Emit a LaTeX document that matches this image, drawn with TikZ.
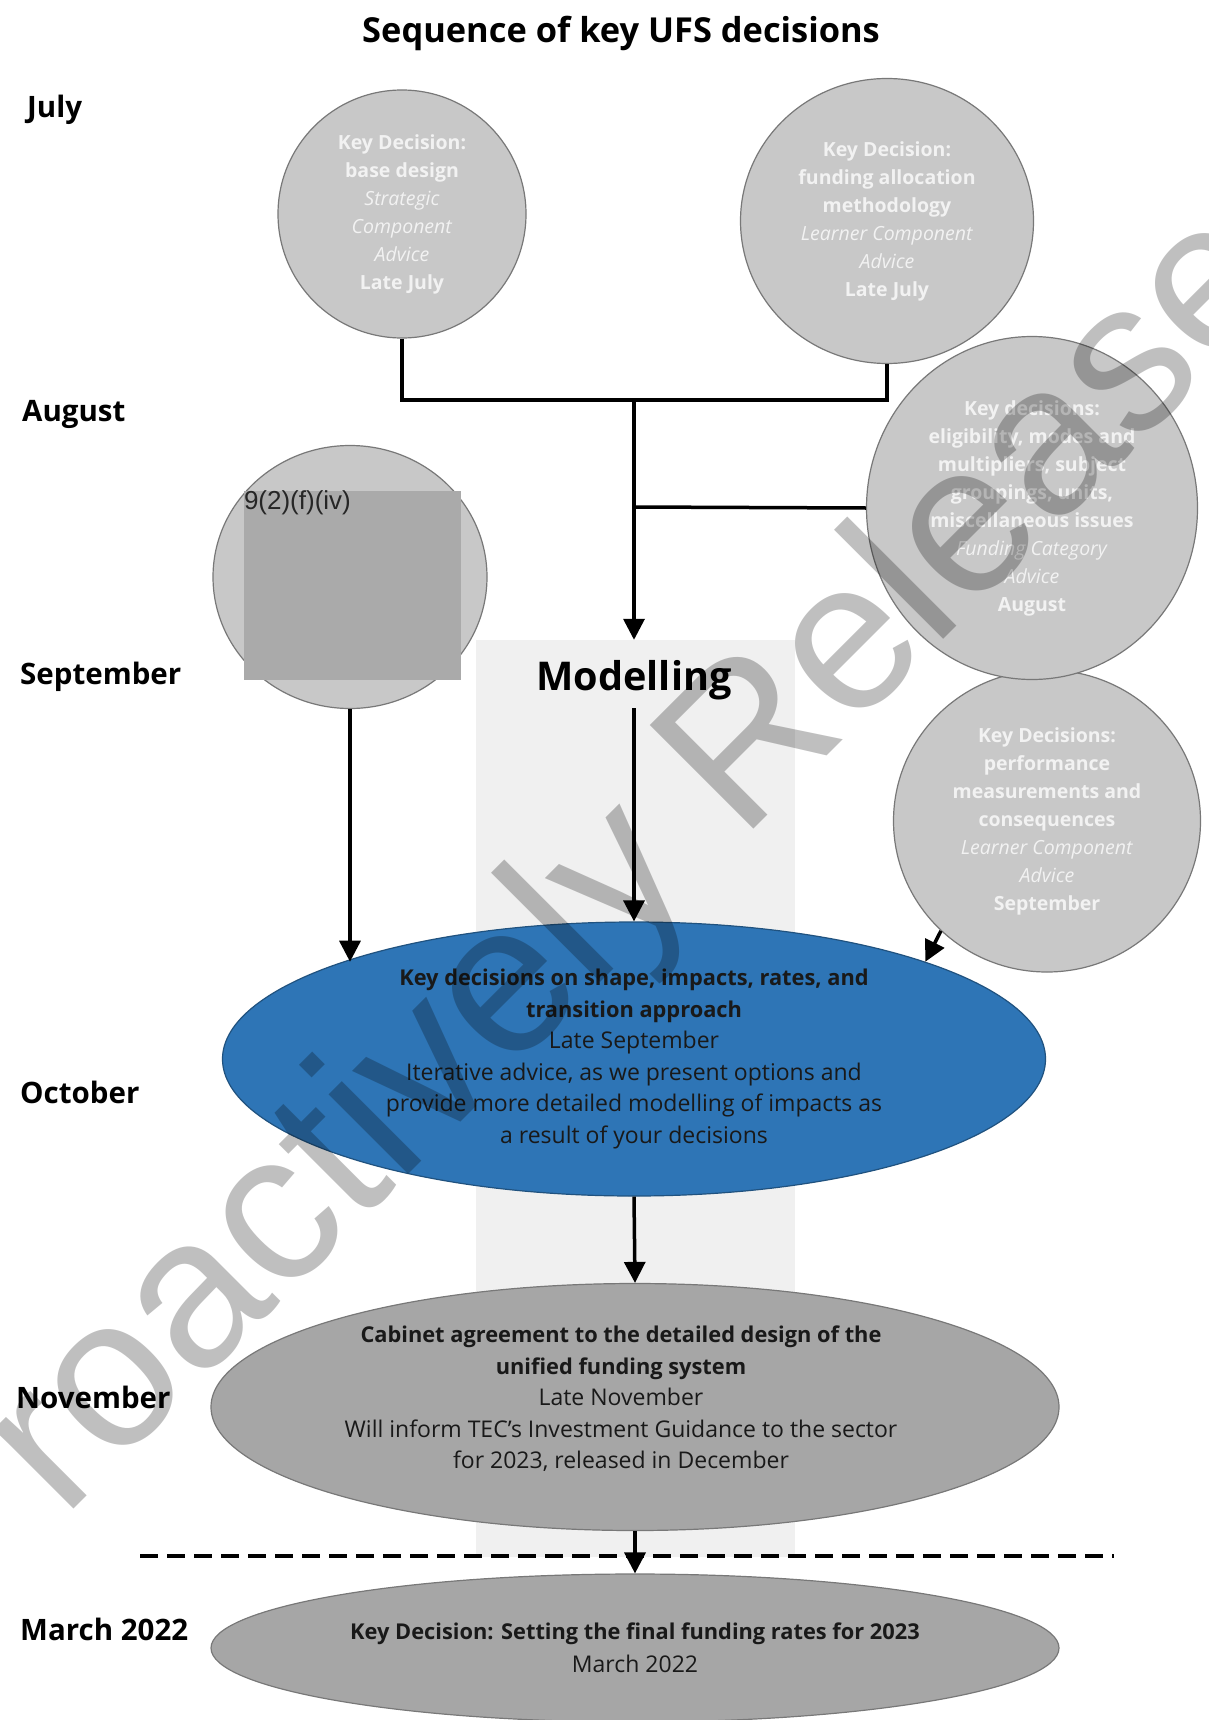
\documentclass[tikz,border=0pt]{standalone}
\usepackage{fontspec}
\setmainfont{Open Sans}
\newfontfamily\wmfont{Liberation Sans}
\usetikzlibrary{arrows.meta,positioning,shapes.geometric,calc}
\definecolor{ufsgrey}{RGB}{200,200,200}
\definecolor{ufsdark}{RGB}{166,166,166}
\definecolor{ufsblue}{RGB}{46,117,182}
\definecolor{ufsband}{RGB}{240,240,240}
\definecolor{ufsline}{RGB}{120,120,120}
\definecolor{ufsredact}{RGB}{170,170,170}
\definecolor{ufswhite}{RGB}{242,242,242}
\newcommand{\hd}[1]{{\bfseries\fontsize{21.8}{31.5}\selectfont #1}}
\tikzset{
  bubble/.style={ellipse,draw=ufsline,line width=1.2pt,fill=ufsgrey,text=ufswhite,align=center,inner sep=0pt,font=\fontsize{19.5}{28}\selectfont},
  oval/.style={ellipse,draw=ufsline,line width=1.2pt,fill=ufsdark,text=black!90,align=center,inner sep=0pt,font=\fontsize{23}{31.5}\selectfont},
  ovaltext/.style={align=center,inner sep=0pt,text=black!90,font=\fontsize{23}{31.5}\selectfont},
  month/.style={anchor=west,inner sep=0pt,font=\bfseries\fontsize{29.5}{34}\selectfont},
  conn/.style={line width=3.5pt},
  arr/.style={conn,-{Triangle[length=21pt,width=21pt]}},
}

\begin{document}
\begin{tikzpicture}[x=1pt,y=-1pt]
\useasboundingbox[fill=white] (0,0) rectangle (1208,1720);
\node[font=\bfseries\fontsize{34.4}{40}\selectfont] (title) at (621,33) {Sequence of key UFS decisions};
% month column
\node[month] (jul) at (27,110) {July};
\node[month] (aug) at (22,414) {August};
\node[month] (sep) at (20,677) {September};
\node[month] (oct) at (20,1092) {October};
\node[month] (nov) at (16,1397) {November};
\node[month] (mar) at (20,1629) {March 2022};
% modelling band
\node[fill=ufsband,minimum width=319pt,minimum height=917pt,inner sep=0pt] (band) at (635.5,1098.5) {};
\node[font=\bfseries\fontsize{39.6}{46}\selectfont,inner sep=2pt] (mod) at (634,680) {Modelling};
% advice bubbles
\node[bubble,minimum width=248pt,minimum height=248pt] (base) at (402,214)
  {\textbf{Key Decision:}\\\textbf{base design}\\\textit{Strategic}\\\textit{Component}\\\textit{Advice}\\\textbf{Late July}};
\node[bubble,minimum width=293pt,minimum height=285pt] (fund) at (887,221)
  {\textbf{Key Decision:}\\\textbf{funding allocation}\\\textbf{methodology}\\\textit{Learner Component}\\\textit{Advice}\\\textbf{Late July}};
\node[bubble,minimum width=274pt,minimum height=263pt] (sect) at (350,577) {};
\node[fill=ufsredact,minimum width=217pt,minimum height=189pt,inner sep=0pt] (redact) at (352.5,585) {};
\node[anchor=north west,inner sep=0pt,font=\wmfont\fontsize{26}{30}\selectfont,text=black!85] (clause) at (redact.north west) {9(2)(f)(iv)};
\node[bubble,minimum width=307pt,minimum height=302pt] (perf) at (1047,821)
  {\textbf{Key Decisions:}\\\textbf{performance}\\\textbf{measurements and}\\\textbf{consequences}\\\textit{Learner Component}\\\textit{Advice}\\\textbf{September}};
\node[bubble,minimum width=331pt,minimum height=343pt] (elig) at (1032,508)
  {\textbf{Key decisions:}\\\textbf{eligibility, modes and}\\\textbf{multipliers, subject}\\\textbf{groupings, units,}\\\textbf{miscellaneous issues}\\\textit{Funding Category}\\\textit{Advice}\\\textbf{August}};
% main decisions
\node[oval,fill=ufsblue,draw=ufsblue!70!black,minimum width=823pt,minimum height=274pt] (shape) at (634,1059)
  {\hd{Key decisions on shape, impacts, rates, and}\\\hd{transition approach}\\Late September\\Iterative advice, as we present options and\\provide more detailed modelling of impacts as\\a result of your decisions};
\node[oval,minimum width=848pt,minimum height=247pt] (cab) at (635,1407) {};
\node[ovaltext] (cabtext) at (621,1399)
  {\hd{Cabinet agreement to the detailed design of the}\\\hd{unified funding system}\\Late November\\Will inform TEC’s Investment Guidance to the sector\\for 2023, released in December};
\node[oval,minimum width=848pt,minimum height=148pt,font=\fontsize{23}{33}\selectfont] (final) at (635,1648)
  {\hd{Key Decision: Setting the final funding rates for 2023}\\March 2022};
% connectors
\coordinate (jn) at (634,400);
\coordinate (jc) at (634,507);
\draw[conn] (base.south) |- (jn) -| (fund.south);
\draw[arr] (jn) -- (jn |- band.north);
\draw[conn] (jc) -- (elig.west);
\draw[arr] ([yshift=-6pt]mod.south) -- (shape.north);
\draw[arr] (sect.south) -- (sect.south |- shape.north west);
\draw[arr] (perf.226) -- (shape.north east);
\draw[arr] (shape.south) -- (cab.north);
\draw[conn,dash pattern=on 18pt off 9pt] (140,1556) -- (1114,1556);
\draw[arr] (cab.south) -- (final.north);
% watermark
\begin{scope}
\clip (0,0) rectangle (1208,1720);
\node[rotate=45,anchor=base west,inner sep=0pt,font=\wmfont\fontsize{213}{213}\selectfont,text=black,opacity=0.25] (wm) at (-37,1620) {Proactively Released};
\end{scope}
\end{tikzpicture}
\end{document}
